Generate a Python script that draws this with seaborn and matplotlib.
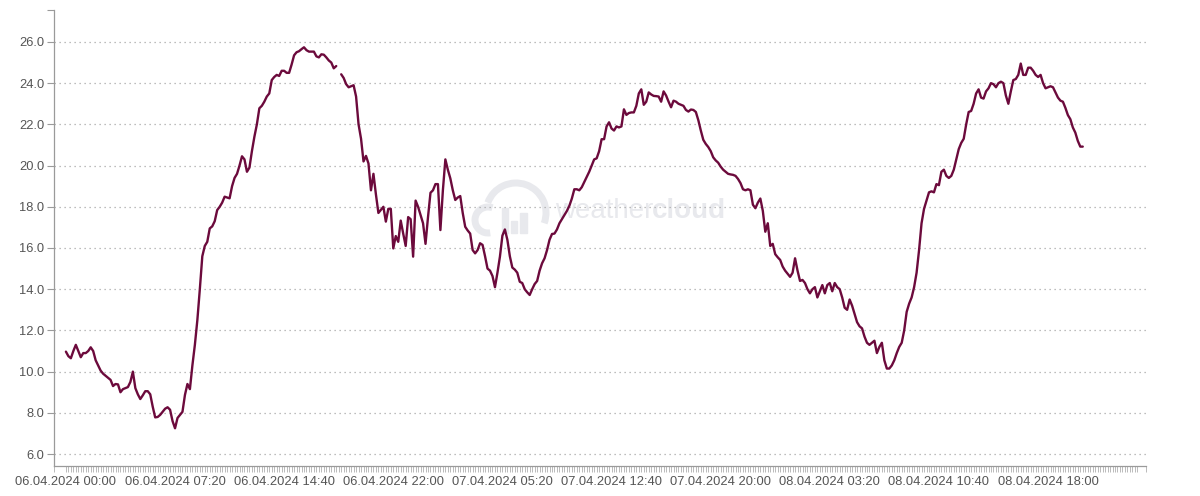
import matplotlib.pyplot as plt
import matplotlib.ticker as mticker
import matplotlib.dates as mdates
from matplotlib.patches import Arc, Rectangle
import numpy as np
import pandas as pd
import seaborn as sns

# 10-minute temperature readings (degC), one row per hour
temp_0604 = [
    10.97, 10.75, 10.65, 11.0, 11.3, 11.0,
    10.7, 10.9, 10.9, 11.0, 11.18, 11.0,
    10.55, 10.3, 10.05, 9.9, 9.8, 9.7,
    9.6, 9.3, 9.4, 9.38, 9.0, 9.15,
    9.2, 9.25, 9.5, 10.0, 9.2, 8.9,
    8.67, 8.85, 9.05, 9.05, 8.9, 8.3,
    7.78, 7.8, 7.9, 8.05, 8.2, 8.27,
    8.15, 7.6, 7.25, 7.75, 7.9, 8.05,
    8.87, 9.4, 9.15, 10.3, 11.3, 12.5,
    14.0, 15.6, 16.1, 16.3, 16.95, 17.05,
    17.3, 17.84, 18.0, 18.2, 18.49, 18.45,
    18.41, 19.0, 19.4, 19.6, 20.0, 20.45,
    20.3, 19.7, 19.9, 20.7, 21.4, 22.0,
    22.78, 22.9, 23.1, 23.35, 23.5, 24.15,
    24.3, 24.4, 24.35, 24.6, 24.6, 24.5,
    24.5, 24.9, 25.35, 25.5, 25.55, 25.65,
    25.74, 25.6, 25.53, 25.53, 25.53, 25.3,
    25.25, 25.4, 25.38, 25.25, 25.1, 25.0,
    24.72, 24.83, np.nan, 24.43, 24.25, 23.95,
    23.8, 23.85, 23.9, 23.35, 22.0, 21.3,
    20.2, 20.47, 20.1, 18.8, 19.6, 18.6,
    17.7, 17.85, 18.0, 17.28, 17.9, 17.9,
    15.98, 16.58, 16.3, 17.33, 16.7, 16.1,
    17.5, 17.4, 15.58, 18.3, 18.0, 17.6,
]
temp_0704 = [
    17.2, 16.2, 17.5, 18.68, 18.8, 19.1,
    19.1, 16.87, 18.8, 20.3, 19.8, 19.38,
    18.8, 18.33, 18.45, 18.52, 17.7, 17.03,
    16.85, 16.7, 15.9, 15.74, 15.9, 16.23,
    16.15, 15.6, 15.0, 14.9, 14.64, 14.1,
    14.8, 15.58, 16.6, 16.9, 16.4, 15.6,
    15.05, 14.95, 14.8, 14.36, 14.3, 14.0,
    13.85, 13.72, 14.0, 14.25, 14.4, 14.9,
    15.26, 15.5, 15.9, 16.4, 16.68, 16.7,
    16.9, 17.2, 17.4, 17.6, 17.8, 18.05,
    18.4, 18.85, 18.85, 18.8, 18.95, 19.2,
    19.46, 19.7, 20.0, 20.3, 20.35, 20.7,
    21.28, 21.28, 21.9, 22.1, 21.8, 21.7,
    21.9, 21.85, 21.9, 22.73, 22.46, 22.55,
    22.58, 22.58, 22.9, 23.5, 23.7, 22.95,
    23.1, 23.55, 23.45, 23.38, 23.37, 23.35,
    23.1, 23.6, 23.4, 23.1, 22.83, 23.15,
    23.1, 23.0, 22.95, 22.9, 22.7, 22.62,
    22.72, 22.7, 22.6, 22.2, 21.7, 21.25,
    21.05, 20.9, 20.7, 20.4, 20.25, 20.14,
    19.95, 19.8, 19.7, 19.6, 19.57, 19.55,
    19.5, 19.35, 19.15, 18.85, 18.8, 18.85,
    18.8, 18.1, 17.93, 18.2, 18.4, 17.8,
    16.79, 17.2, 16.1, 16.2, 15.7, 15.55,
]
temp_0804 = [
    15.42, 15.1, 14.9, 14.75, 14.6, 14.8,
    15.5, 14.9, 14.4, 14.45, 14.3, 14.0,
    13.8, 14.0, 14.1, 13.6, 13.9, 14.2,
    13.8, 14.2, 14.3, 13.9, 14.3, 14.1,
    14.0, 13.6, 13.1, 13.0, 13.5, 13.2,
    12.8, 12.4, 12.2, 12.1, 11.7, 11.4,
    11.3, 11.4, 11.5, 10.9, 11.2, 11.4,
    10.55, 10.15, 10.15, 10.3, 10.55, 10.9,
    11.2, 11.4, 12.0, 12.9, 13.3, 13.6,
    14.1, 14.8, 15.9, 17.2, 17.9, 18.3,
    18.7, 18.75, 18.7, 19.1, 19.05, 19.7,
    19.8, 19.5, 19.4, 19.5, 19.8, 20.3,
    20.8, 21.1, 21.3, 22.0, 22.6, 22.65,
    23.0, 23.5, 23.7, 23.3, 23.25, 23.6,
    23.75, 24.0, 23.95, 23.8, 24.0, 24.07,
    24.0, 23.4, 23.0, 23.6, 24.15, 24.2,
    24.4, 24.95, 24.4, 24.4, 24.75, 24.75,
    24.6, 24.4, 24.3, 24.4, 24.0, 23.75,
    23.8, 23.85, 23.8, 23.55, 23.3, 23.15,
    23.1, 22.8, 22.45, 22.25, 21.85, 21.6,
    21.2, 20.92, 20.92,
]

start = pd.Timestamp("2024-04-06 00:00")
y_ticks = np.arange(6, 27, 2)

temps = temp_0604 + temp_0704 + temp_0804
df = pd.DataFrame({
    "time": pd.date_range(start, periods=len(temps), freq="10min"),
    "temp": temps,
})
# missing reading -> break the line there
df["segment"] = df["temp"].isna().cumsum()
df = df.dropna()

sns.set_style("white")
plt.rcParams["font.family"] = ["Liberation Sans", "DejaVu Sans"]

fig = plt.figure(figsize=(12, 4.96), dpi=100)

# faint weathercloud watermark, drawn in pixel coordinates
bg = fig.add_axes([0, 0, 1, 1], zorder=0)
bg.set_xlim(0, 1200)
bg.set_ylim(496, 0)
bg.axis("off")
wm = "#e8e9ed"
bg.add_patch(Arc((516, 213), 60, 60, theta1=200, theta2=380, color=wm, lw=5))
bg.add_patch(Arc((488, 220), 26, 26, theta1=80, theta2=290, color=wm, lw=5))
bg.add_patch(Rectangle((502, 208), 6, 25, color=wm))
bg.add_patch(Rectangle((511, 221), 6, 12, color=wm))
bg.add_patch(Rectangle((520, 213), 7, 20, color=wm))
bg.text(555, 218, "weather", color=wm, fontsize=20, va="baseline")
bg.text(652, 218, "cloud", color=wm, fontsize=20, fontweight="bold", va="baseline")

ax = fig.add_axes([54 / 1200, 30 / 496, 1092 / 1200, 456 / 496], zorder=1)
ax.set_facecolor("none")

sns.lineplot(
    data=df, x="time", y="temp", units="segment", estimator=None,
    color="#6c0a3c", lw=1.7, ax=ax,
)

x_left = start - pd.Timedelta(minutes=48)
x_right = start + pd.Timedelta(minutes=4355)
ax.set_xlim(x_left, x_right)
ax.set_ylim(5.42, 27.55)

# labelled ticks every 7h20m, small ticks every 10 minutes
major = pd.date_range(start, x_right, freq="440min")
ax.xaxis.set_major_locator(mticker.FixedLocator(mdates.date2num(major)))
ax.xaxis.set_major_formatter(mdates.DateFormatter("%d.%m.%Y %H:%M"))
minor = list(pd.date_range(start, start + pd.Timedelta(hours=72), freq="10min"))
minor += [x_left, x_right]
ax.xaxis.set_minor_locator(mticker.FixedLocator(mdates.date2num(minor)))

ax.set_yticks(y_ticks)
ax.yaxis.set_major_formatter(mticker.FormatStrFormatter("%.1f"))
ax.yaxis.set_minor_locator(mticker.FixedLocator([27.55]))

ax.yaxis.grid(True, linestyle=(0, (1, 3)), color="#a8a8a8", lw=0.9)
ax.xaxis.grid(False)

for side in ["top", "right"]:
    ax.spines[side].set_visible(False)
for side in ["left", "bottom"]:
    ax.spines[side].set_color("#9a9a9a")
    ax.spines[side].set_linewidth(0.9)

ax.tick_params(axis="x", which="both", bottom=True, length=4.5, width=0.6,
               color="#b0b0b0")
ax.tick_params(axis="x", which="major", pad=3, labelsize=9.3,
               labelcolor="#555555")
ax.tick_params(axis="y", which="both", left=True, length=5, width=0.8,
               color="#9a9a9a", pad=2, labelsize=9.3, labelcolor="#555555")

ax.set_xlabel("")
ax.set_ylabel("")

fig.savefig("out.png", dpi=100)
